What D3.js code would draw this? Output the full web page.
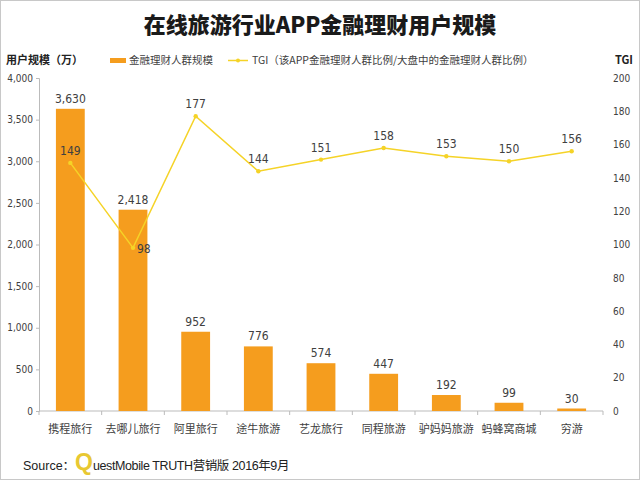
<!DOCTYPE html>
<html><head><meta charset="utf-8">
<script src="https://cdn.jsdelivr.net/npm/d3@7"></script>
<style>html,body{margin:0;padding:0;background:#fff;}svg{display:block;font-family:"Noto Sans CJK SC","DejaVu Sans",sans-serif;}</style>
</head><body>
<svg id="c" width="640" height="480"></svg>
<script>
const categories = ["携程旅行","去哪儿旅行","阿里旅行","途牛旅游","艺龙旅行","同程旅游","驴妈妈旅游","蚂蜂窝商城","穷游"];
const users = [3630,2418,952,776,574,447,192,99,30];
const tgi = [149,98,177,144,151,158,153,150,156];
const leftTicks = [0,500,1000,1500,2000,2500,3000,3500,4000];
const rightTicks = [0,20,40,60,80,100,120,140,160,180,200];

const svg = d3.select("#c");
svg.append("rect").attr("x",0.5).attr("y",0.5).attr("width",639).attr("height",479).attr("fill","#fff").attr("stroke","#c8c8c8");

const L=39,R=603,T=78,B=411;
const x = d3.scaleBand().domain(categories).range([L,R]).paddingInner(0.54).paddingOuter(0.27);
const xb = d3.scaleBand().domain(categories).range([L,R]);
const yL = d3.scaleLinear().domain([0,4000]).range([B,T]);
const yR = d3.scaleLinear().domain([0,200]).range([B,T]);
const textCol="#404040";

svg.append("text").attr("x",320).attr("y",33).attr("text-anchor","middle").attr("font-size",22).attr("font-weight","900").attr("fill","#1a1a1a").text("在线旅游行业APP金融理财用户规模");

svg.append("text").attr("x",6).attr("y",64).attr("font-size",11).attr("font-weight","bold").attr("fill","#222").text("用户规模（万）");
svg.append("text").attr("x",633).attr("y",64).attr("text-anchor","end").attr("font-size",11).attr("font-weight","bold").attr("fill","#222").text("TGI");
// legend
svg.append("rect").attr("x",110).attr("y",58).attr("width",16).attr("height",5).attr("fill","#F59D1E");
svg.append("text").attr("x",129).attr("y",64).attr("font-size",10.5).attr("fill",textCol).text("金融理财人群规模");
svg.append("line").attr("x1",228).attr("x2",248).attr("y1",60.5).attr("y2",60.5).attr("stroke","#F5D327").attr("stroke-width",1.5);
svg.append("circle").attr("cx",238).attr("cy",60.5).attr("r",2).attr("fill","#F5D327");
svg.append("text").attr("x",252).attr("y",64).attr("font-size",10.5).attr("fill",textCol).text("TGI（该APP金融理财人群比例/大盘中的金融理财人群比例）");

// left axis
const gl = svg.append("g").attr("transform",`translate(${L},0)`).call(d3.axisLeft(yL).tickValues(leftTicks).tickSize(3).tickFormat(d3.format(",")));
gl.select(".domain").attr("stroke","#bbb");
gl.selectAll(".tick line").attr("stroke","#bbb");
gl.selectAll("text").attr("font-size",10).attr("fill",textCol).attr("font-family","DejaVu Sans Condensed, sans-serif");
// right axis
const gr = svg.append("g").attr("transform",`translate(${R},0)`).call(d3.axisRight(yR).tickValues(rightTicks).tickSize(0).tickPadding(10));
gr.select(".domain").remove();
gr.selectAll("text").attr("font-size",10).attr("fill",textCol).attr("font-family","DejaVu Sans Condensed, sans-serif");
// bottom axis
const gb = svg.append("g").attr("transform",`translate(0,${B})`);
gb.append("line").attr("x1",L).attr("x2",R).attr("stroke","#bbb");
gb.selectAll("line.t").data(categories.concat(["_end"])).join("line").attr("class","t")
  .attr("x1",d=>d==="_end"?R:xb(d)).attr("x2",d=>d==="_end"?R:xb(d)).attr("y1",0).attr("y2",4).attr("stroke","#bbb");
gb.selectAll("text").data(categories).join("text").attr("x",d=>xb(d)+xb.bandwidth()/2).attr("y",22)
  .attr("text-anchor","middle").attr("font-size",11).attr("fill",textCol).text(d=>d);

// bars
svg.selectAll("rect.bar").data(users).join("rect").attr("class","bar")
  .attr("x",(d,i)=>x(categories[i])).attr("width",x.bandwidth())
  .attr("y",d=>yL(d)).attr("height",d=>B-yL(d)).attr("fill","#F59D1E");
svg.selectAll("text.bl").data(users).join("text").attr("class","bl")
  .attr("x",(d,i)=>x(categories[i])+x.bandwidth()/2).attr("y",d=>yL(d)-6)
  .attr("text-anchor","middle").attr("font-size",12).attr("fill",textCol).attr("font-family","DejaVu Sans Condensed, sans-serif")
  .text(d=>d3.format(",")(d));

// line
const cx = i=>xb(categories[i])+xb.bandwidth()/2;
svg.append("path").datum(tgi).attr("fill","none").attr("stroke","#F5D327").attr("stroke-width",1.5)
  .attr("d",d3.line().x((d,i)=>cx(i)).y(d=>yR(d)));
svg.selectAll("circle.p").data(tgi).join("circle").attr("class","p").attr("cx",(d,i)=>cx(i)).attr("cy",d=>yR(d)).attr("r",2.2).attr("fill","#F5D327");
svg.selectAll("text.tl").data(tgi).join("text").attr("class","tl")
  .attr("x",(d,i)=>i===1?cx(i)+4:cx(i)).attr("y",(d,i)=>i===1?yR(d)+5:yR(d)-8)
  .attr("text-anchor",(d,i)=>i===1?"start":"middle").attr("font-size",12).attr("fill",textCol).attr("font-family","DejaVu Sans Condensed, sans-serif")
  .text(d=>d);

// source
const src = svg.append("text").attr("x",23).attr("y",470).attr("font-size",12.5).attr("fill","#222").attr("font-family","Liberation Sans, Noto Sans CJK SC, sans-serif");
src.append("tspan").text("Source：");
src.append("tspan").attr("font-size",23).attr("fill","#E8C832").attr("font-weight","bold").text("Q");
src.append("tspan").attr("letter-spacing","-0.4").text("uestMobile TRUTH营销版 2016年9月");
</script>
</body></html>
